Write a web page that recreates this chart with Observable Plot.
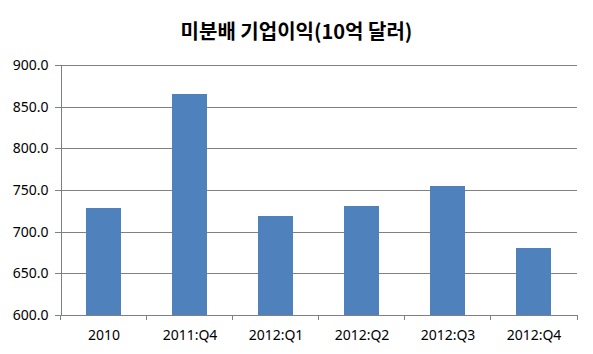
<!DOCTYPE html>
<html>
<head>
<meta charset="utf-8">
<script src="https://cdn.jsdelivr.net/npm/d3@7"></script>
<script src="https://cdn.jsdelivr.net/npm/@observablehq/plot@0.6"></script>
<style>
  body { margin: 0; background: #fff; width: 593px; height: 354px; overflow: hidden; }
  #title { height: 50px; line-height: 62px; text-align: center; font-family: "Noto Sans CJK KR", "Noto Sans", sans-serif; font-weight: bold; font-size: 20px; color: #000; }
  svg { display: block; }
</style>
</head>
<body>
<div id="title">미분배 기업이익(10억 달러)</div>
<div id="chart"></div>
<script>
const categories = ["2010", "2011:Q4", "2012:Q1", "2012:Q2", "2012:Q3", "2012:Q4"];
const values = [729, 865, 719, 731, 755, 681];
const yTicks = [600, 650, 700, 750, 800, 850, 900];

const data = categories.map((c, i) => ({category: c, value: values[i]}));
const grid = "#808080";

const chart = Plot.plot({
  width: 593,
  height: 304,
  marginTop: 15,
  marginBottom: 39,
  marginLeft: 61,
  marginRight: 16,
  style: {fontFamily: "'Noto Sans', 'Open Sans', sans-serif", fontSize: "14px", color: "#000", background: "#fff", shapeRendering: "crispEdges"},
  x: {domain: categories, paddingInner: 0.59, paddingOuter: 0.295, label: null},
  y: {domain: [600, 900], ticks: yTicks, label: null},
  marks: [
    Plot.ruleY(yTicks, {stroke: grid, strokeWidth: 1, strokeOpacity: 1}),
    Plot.barY(data, {x: "category", y1: 600, y2: "value", fill: "#4F81BD"}),
    Plot.axisY(yTicks, {tickSize: 6, tickPadding: 7, stroke: grid, strokeWidth: 1, strokeOpacity: 1, tickFormat: d => d.toFixed(1), fontSize: 14, fill: "#000"}),
    Plot.axisX({tickSize: 0, tickPadding: 15, fontSize: 14, fill: "#000"})
  ]
});

// left axis line and boundary ticks on x, from scales
const sx = chart.scale("x");
const sy = chart.scale("y");
const svg = d3.select(chart);
const y0 = sy.apply(600), y1 = sy.apply(900);
const g = svg.append("g").attr("stroke", grid).attr("stroke-width", 1).attr("shape-rendering", "crispEdges");
const left = sx.range[0], right = sx.range[1];
g.append("line").attr("x1", left).attr("x2", left).attr("y1", y0).attr("y2", y1);
const bounds = categories.map(c => sx.apply(c) - (sx.step - sx.bandwidth) / 2);
bounds.push(right);
for (const b of bounds) {
  g.append("line").attr("x1", b).attr("x2", b).attr("y1", y0).attr("y2", y0 + 5);
}
document.getElementById("chart").appendChild(chart);
</script>
</body>
</html>
